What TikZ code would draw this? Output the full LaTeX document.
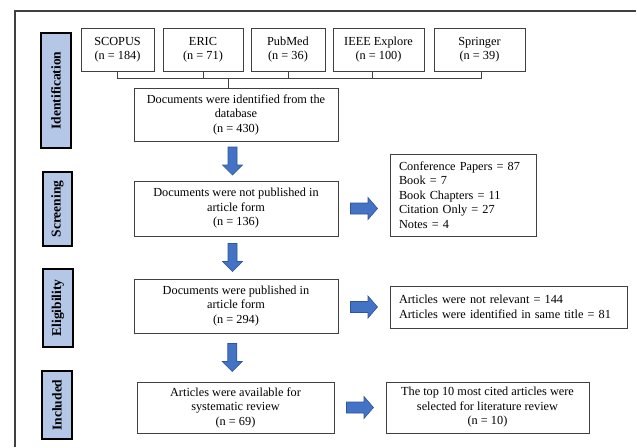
\documentclass[tikz,border=0pt]{standalone}
\usepackage{fontspec}
\setmainfont{Liberation Serif}
\usetikzlibrary{calc}
\definecolor{stagefill}{HTML}{B4C7E7}
\definecolor{arrfill}{HTML}{4472C4}
\definecolor{arrdraw}{HTML}{2F5597}
\definecolor{boxline}{HTML}{404040}
\tikzset{
  box/.style={draw=boxline, line width=0.9pt, align=center, inner sep=1pt, font=\fontsize{12.3}{14.5}\selectfont},
  listbox/.style={draw=boxline, line width=0.9pt, align=left, inner sep=0pt, font=\fontsize{12.3}{14.5}\selectfont},
  stage/.style={draw=black, line width=1.8pt, fill=stagefill, rotate=90, inner sep=0pt, font=\fontsize{13.5}{15}\selectfont\bfseries},
  link/.style={draw=boxline, line width=0.9pt},
  blockarrow/.style={fill=arrfill, draw=arrdraw, line width=0.6pt, line join=miter}
}
\newcommand{\downblock}[1]{%
  \path[blockarrow] ($(#1)+(-4.5,-14)$) -- ($(#1)+(4.5,-14)$) -- ($(#1)+(4.5,4)$) -- ($(#1)+(10,4)$) -- ($(#1)+(0,14)$) -- ($(#1)+(-10,4)$) -- ($(#1)+(-4.5,4)$) -- cycle;}
\newcommand{\rightblock}[1]{%
  \path[blockarrow] ($(#1)+(-13.5,-5.5)$) -- ($(#1)+(4,-5.5)$) -- ($(#1)+(4,-11)$) -- ($(#1)+(13.5,0)$) -- ($(#1)+(4,11)$) -- ($(#1)+(4,5.5)$) -- ($(#1)+(-13.5,5.5)$) -- cycle;}
\begin{document}
\begin{tikzpicture}[x=1pt,y=-1pt]
\useasboundingbox (0,0) rectangle (637,447);
% frame
\draw[line width=1.2pt, draw=boxline] (15,447) -- (15,11) -- (636,11);
% stage labels
\node[stage, minimum width=115, minimum height=30] (s1) at (56,90.5) {Identification};
\node[stage, minimum width=74, minimum height=29] (s2) at (57.5,209) {Screening};
\node[stage, minimum width=78, minimum height=30] (s3) at (58,308) {Eligibility};
\node[stage, minimum width=68, minimum height=30] (s4) at (57,405) {Included};
% sources
\node[box, minimum width=73, minimum height=43] (scopus) at (117.5,49.5) {SCOPUS\\(n = 184)};
\node[box, minimum width=80, minimum height=43] (eric) at (203,49.5) {ERIC\\(n = 71)};
\node[box, minimum width=74, minimum height=43] (pubmed) at (288,49.5) {PubMed\\(n = 36)};
\node[box, minimum width=91, minimum height=43] (ieee) at (378.5,49.5) {IEEE Explore\\(n = 100)};
\node[box, minimum width=91, minimum height=43] (springer) at (479.5,49.5) {Springer\\(n = 39)};
% main flow
\node[box, minimum width=204, minimum height=53] (b1) at (236,114.5) {Documents were identified from the\\database\\(n = 430)};
\node[box, minimum width=204, minimum height=55] (b2) at (236,208.5) {Documents were not published in\\article form\\(n = 136)};
\node[box, minimum width=204, minimum height=54] (b3) at (236,306) {Documents were published in\\article form\\(n = 294)};
\node[box, minimum width=197, minimum height=51] (b4) at (235.5,407.5) {Articles were available for\\systematic review\\(n = 69)};
% right boxes
\node[listbox, minimum width=146, minimum height=82, text width=128] (r2) at (463,195) {Conference Papers = 87\\Book = 7\\Book Chapters = 11\\Citation Only = 27\\Notes = 4};
\node[listbox, minimum width=237, minimum height=42, text width=219] (r3) at (508.5,307) {Articles were not relevant = 144\\Articles were identified in same title = 81};
\node[box, minimum width=203, minimum height=51] (r4) at (487.5,407.5) {The top 10 most cited articles were\\selected for literature review\\(n = 10)};
% bracket connector
\coordinate (bar) at (0,78.5);
\draw[link] (scopus.south) -- (scopus.south |- bar);
\draw[link] (eric.south) -- (eric.south |- bar);
\draw[link] (pubmed.south) -- (pubmed.south |- bar);
\draw[link] ([xshift=-6.5]ieee.south) -- ([xshift=-6.5]ieee.south |- bar);
\draw[link] ([xshift=1.5]springer.south) -- ([xshift=1.5]springer.south |- bar);
\draw[link] (scopus.south |- bar) -- ([xshift=1.5]springer.south |- bar);
\draw[link] ([xshift=-8]b1.north |- bar) -- ([xshift=-8]b1.north);
% block arrows
\coordinate (d1) at ($([xshift=-3.5]b1.south)!0.5!([xshift=-3.5]b2.north)$);
\coordinate (d2) at ($([xshift=-3.5]b2.south)!0.5!([xshift=-3.5]b3.north)$);
\coordinate (d3) at ($([xshift=-3.5]b3.south)!0.5!([xshift=-3.5]b4.north)$);
\downblock{d1}
\downblock{d2}
\downblock{d3}
\coordinate (h2) at ($(b2.east)!0.5!(r2.west |- b2.east)$);
\coordinate (h3) at ($(b3.east |- r3.west)!0.5!(r3.west)$);
\coordinate (h4) at ($(b4.east)!0.5!(r4.west)$);
\rightblock{h2}
\rightblock{h3}
\rightblock{h4}
\end{tikzpicture}
\end{document}
